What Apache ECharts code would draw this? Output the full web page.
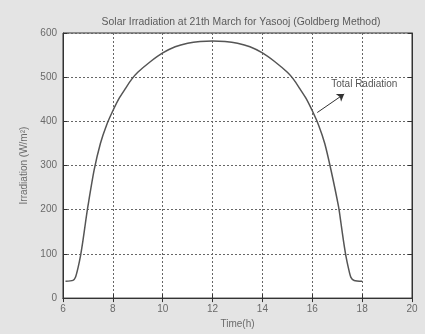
<!DOCTYPE html>
<html>
<head>
<meta charset="utf-8">
<script src="https://cdn.jsdelivr.net/npm/echarts@6/dist/echarts.min.js"></script>
<style>
  html, body { margin: 0; padding: 0; background: #e4e4e4; }
  #chart { width: 425px; height: 334px; }
</style>
</head>
<body>
<div id="chart"></div>
<script>
// time of day (h) and total radiation (W/m^2)
const hours = [6.1, 6.4, 6.5, 6.6, 6.7, 6.8, 6.9, 7.0, 7.25, 7.5, 7.75, 8.0, 8.25, 8.5, 8.75, 9.0, 9.5, 10.0, 10.5, 11.0, 11.5, 12.0,
  12.5, 13.0, 13.5, 14.0, 14.5, 15.0, 15.25, 15.5, 15.75, 16.0, 16.25, 16.5, 16.75, 17.05, 17.15, 17.25, 17.35, 17.45, 17.55, 17.68, 18.0]
const radiation = [38, 40, 47, 68, 95, 130, 170, 208, 290, 350, 392, 424, 452, 474, 495, 511, 535, 555, 569, 577, 581, 582,
  581, 577, 569, 555, 535, 511, 495, 474, 452, 424, 392, 350, 290, 208, 170, 130, 95, 68, 47, 40, 38]
const xTicks = [6, 8, 10, 12, 14, 16, 18, 20]
const yTicks = [0, 100, 200, 300, 400, 500, 600]

const labelColor = '#6a6a6a'
const gridLine = { show: true, lineStyle: { type: [2, 2], color: '#666', width: 1 } }

const chart = echarts.init(document.getElementById('chart'))
chart.setOption({
  backgroundColor: '#e4e4e4',
  animation: false,
  title: {
    text: 'Solar Irradiation at 21th March for Yasooj (Goldberg Method)',
    left: 236,
    top: 12,
    textAlign: 'center',
    textStyle: { fontSize: 10.4, fontWeight: 'normal', color: '#5a5a5a', fontFamily: 'Liberation Sans' }
  },
  grid: {
    left: 63, right: 13, top: 33, bottom: 30,
    show: true, backgroundColor: '#fff', borderColor: '#333', borderWidth: 1
  },
  xAxis: [{
    type: 'value',
    min: xTicks[0], max: xTicks[xTicks.length - 1], interval: 2,
    name: 'Time(h)', nameLocation: 'middle', nameGap: 18,
    nameTextStyle: { fontSize: 10, color: labelColor, fontFamily: 'Liberation Sans' },
    axisLine: { lineStyle: { color: '#333' } },
    axisTick: { inside: true, length: 4, lineStyle: { color: '#333' } },
    axisLabel: { fontSize: 10, color: labelColor, margin: 6, fontFamily: 'Liberation Sans' },
    splitLine: gridLine
  }, {
    type: 'value', position: 'top',
    min: xTicks[0], max: xTicks[xTicks.length - 1], interval: 2,
    axisLine: { lineStyle: { color: '#333' } },
    axisTick: { inside: true, length: 4, lineStyle: { color: '#333' } },
    axisLabel: { show: false }, splitLine: { show: false }
  }],
  yAxis: [{
    type: 'value',
    min: yTicks[0], max: yTicks[yTicks.length - 1], interval: 100,
    name: 'Irradiation (W/m²)', nameLocation: 'middle', nameGap: 29,
    nameTextStyle: { fontSize: 10, color: labelColor, fontFamily: 'Liberation Sans' },
    axisLine: { show: true, lineStyle: { color: '#333' } },
    axisTick: { show: true, inside: true, length: 4, lineStyle: { color: '#333' } },
    axisLabel: { fontSize: 10, color: labelColor, margin: 6, fontFamily: 'Liberation Sans' },
    splitLine: gridLine
  }, {
    type: 'value', position: 'right',
    min: yTicks[0], max: yTicks[yTicks.length - 1], interval: 100,
    axisLine: { show: true, lineStyle: { color: '#333' } },
    axisTick: { show: true, inside: true, length: 4, lineStyle: { color: '#333' } },
    axisLabel: { show: false }, splitLine: { show: false }
  }],
  series: [{
    name: 'Total Radiation',
    type: 'line',
    smooth: 0.25,
    showSymbol: false,
    lineStyle: { color: '#555', width: 1.5 },
    data: hours.map((h, i) => [h, radiation[i]]),
    markLine: {
      silent: true,
      symbol: ['none', 'arrow'],
      symbolSize: 7,
      lineStyle: { color: '#333', type: 'solid', width: 1 },
      label: { show: false },
      data: [[{ coord: [16.2, 420] }, { coord: [17.28, 462] }]]
    },
    markPoint: {
      symbol: 'circle', symbolSize: 0,
      label: {
        show: true, position: 'right', distance: 0,
        formatter: 'Total Radiation',
        fontSize: 10, color: '#555', fontFamily: 'Liberation Sans'
      },
      data: [{ coord: [16.76, 485] }]
    }
  }]
})
</script>
</body>
</html>
